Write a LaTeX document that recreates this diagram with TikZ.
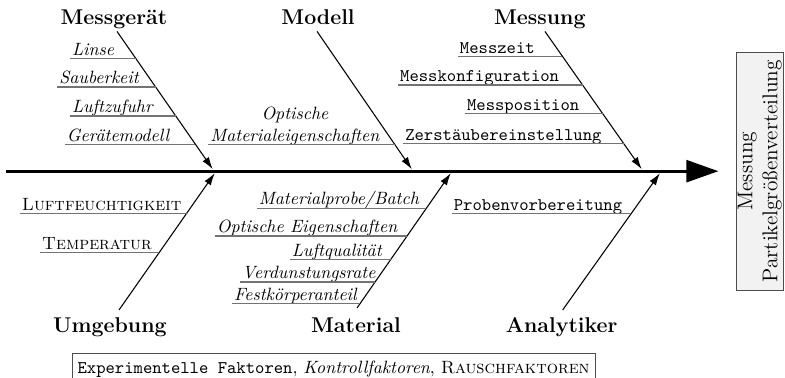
\documentclass[tikz,border=0pt]{standalone}
\usepackage{fontspec}
\usetikzlibrary{arrows.meta, calc}
\tikzset{
  head/.style={font=\large\bfseries, anchor=base, inner sep=1pt},
  factor/.style={anchor=south west, inner sep=1pt, text depth=0.6pt},
  bone/.style={-{Latex[length=2.4mm,width=1.5mm]}, line width=0.6pt},
  spine/.style={-{Triangle[length=6.3mm,width=4.3mm]}, line width=1.7pt},
  uline/.style={black!55, line width=0.7pt},
}
% underline of a factor, up to its bone
\newcommand{\underbone}[3]{\draw[uline] let \p1=(#1.south west), \p2=(#2), \p3=(#3) in (\p1) -- ({\x2+(\x3-\x2)*(\y1-\y2)/(\y3-\y2)}, \y1);}
\begin{document}
\begin{tikzpicture}
\useasboundingbox (0,-4.07) rectangle (15.50,3.38);
% Result and spine
\node[draw=black!70, fill=gray!10, rotate=90, minimum width=4.7cm, minimum height=0.9cm, align=center, font=\large, inner sep=1pt] (result) at (15.00,0) {Messung\\Partikelgrößenverteilung};
\coordinate (tail) at (0.12,0);
\draw[spine, shorten >=0.34cm] (tail) -- (result);
% Main causes
\node[head] (messgeraet) at (2.25,2.90) {Messgerät};
\node[head] (modell) at (6.28,2.90) {Modell};
\node[head] (messung) at (10.66,2.90) {Messung};
\node[head] (umgebung) at (2.17,-3.18) {Umgebung};
\node[head] (material) at (7.03,-3.18) {Material};
\node[head] (analytiker) at (11.09,-3.18) {Analytiker};
\coordinate (mgtop) at (2.31,2.76);  \coordinate (mgtip) at (4.20,0.04);
\coordinate (motop) at (6.26,2.76);  \coordinate (motip) at (8.13,0.04);
\coordinate (mutop) at (10.76,2.76); \coordinate (mutip) at (12.67,0.04);
\coordinate (umtop) at (2.35,-2.74); \coordinate (umtip) at (4.24,-0.04);
\coordinate (matop) at (7.05,-2.70); \coordinate (matip) at (8.90,-0.04);
\coordinate (antop) at (11.11,-2.74); \coordinate (antip) at (13.03,-0.04);
% Bones
\draw[bone] (mgtop) -- (mgtip);
\draw[bone] (motop) -- (motip);
\draw[bone] (mutop) -- (mutip);
\draw[bone] (umtop) -- (umtip);
\draw[bone] (matop) -- (matip);
\draw[bone] (antop) -- (antip);
% Factors
\node[factor] (linse) at (1.38,2.23) {\textit{Linse}};
\node[factor] (sauberkeit) at (1.13,1.66) {\textit{Sauberkeit}};
\node[factor] (luftzufuhr) at (1.38,1.09) {\textit{Luftzufuhr}};
\node[factor] (geraetemodell) at (1.28,0.53) {\textit{Gerätemodell}};
\node[factor, align=center] (opteigen) at (4.11,0.53) {\textit{Optische}\\\textit{Materialeigenschaften}};
\node[factor] (messzeit) at (9.04,2.27) {\texttt{Messzeit}};
\node[factor] (messkonfig) at (7.86,1.70) {\texttt{Messkonfiguration}};
\node[factor] (messpos) at (9.18,1.14) {\texttt{Messposition}};
\node[factor] (zerstaeuber) at (7.96,0.55) {\texttt{Zerstäubereinstellung}};
\node[factor] (feuchte) at (0.39,-0.83) {\textsc{Luftfeuchtigkeit}};
\node[factor] (temperatur) at (0.79,-1.60) {\textsc{Temperatur}};
\node[factor] (probe) at (5.07,-0.73) {\textit{Materialprobe/Batch}};
\node[factor] (opteig) at (4.24,-1.28) {\textit{Optische Eigenschaften}};
\node[factor] (luftqual) at (5.72,-1.74) {\textit{Luftqualität}};
\node[factor] (verdunst) at (4.74,-2.19) {\textit{Verdunstungsrate}};
\node[factor] (festanteil) at (4.58,-2.61) {\textit{Festkörperanteil}};
\node[factor] (probenvor) at (8.92,-0.83) {\texttt{Probenvorbereitung}};
% Underlines
\underbone{linse}{mgtop}{mgtip}
\underbone{sauberkeit}{mgtop}{mgtip}
\underbone{luftzufuhr}{mgtop}{mgtip}
\underbone{geraetemodell}{mgtop}{mgtip}
\underbone{opteigen}{motop}{motip}
\underbone{messzeit}{mutop}{mutip}
\underbone{messkonfig}{mutop}{mutip}
\underbone{messpos}{mutop}{mutip}
\underbone{zerstaeuber}{mutop}{mutip}
\underbone{feuchte}{umtop}{umtip}
\underbone{temperatur}{umtop}{umtip}
\underbone{probe}{matop}{matip}
\underbone{opteig}{matop}{matip}
\underbone{luftqual}{matop}{matip}
\underbone{verdunst}{matop}{matip}
\underbone{festanteil}{matop}{matip}
\underbone{probenvor}{antop}{antip}
% Legend
\node[draw=black!70, anchor=north west, inner xsep=3pt, inner ysep=4pt] (legend) at (1.42,-3.59) {\texttt{Experimentelle Faktoren}, \textit{Kontrollfaktoren}, \textsc{Rauschfaktoren}};
\end{tikzpicture}
\end{document}
